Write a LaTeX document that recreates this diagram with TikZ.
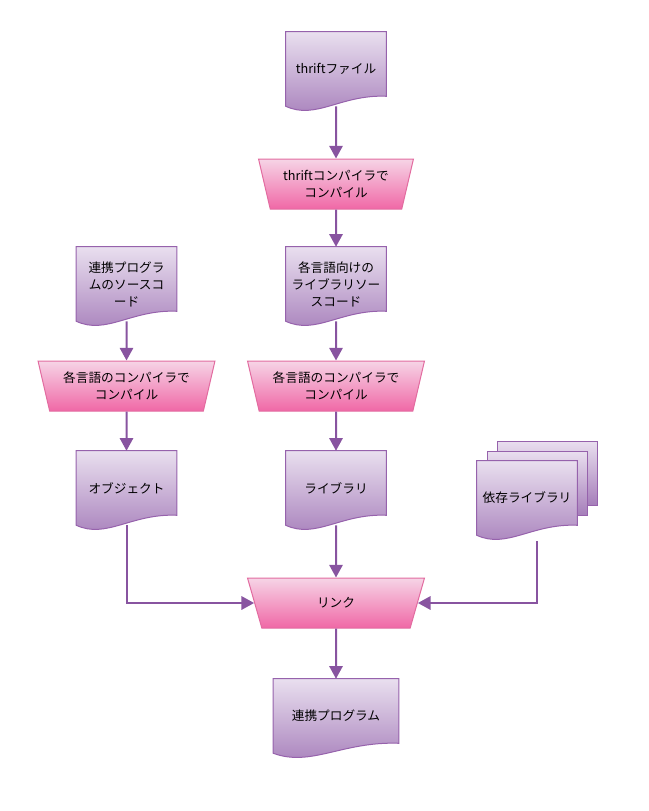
\documentclass[tikz,border=0pt]{standalone}
\usepackage{fontspec}
\setmainfont{Noto Sans CJK JP}
\usetikzlibrary{shapes.geometric,arrows.meta,backgrounds,calc}
\definecolor{docTop}{RGB}{233,223,239}
\definecolor{docBot}{RGB}{166,126,186}
\definecolor{docEdge}{RGB}{150,98,172}
\definecolor{cmpTop}{RGB}{246,212,230}
\definecolor{cmpBot}{RGB}{240,104,166}
\definecolor{cmpEdge}{RGB}{226,108,160}
\definecolor{flow}{RGB}{136,84,160}
\tikzset{>={Triangle[width=10pt,length=9.5pt]}}
\tikzset{
  docnode/.style={minimum width=75pt, minimum height=55.5pt, inner sep=0pt, align=center},
  docline/.style={draw=docEdge, line width=0.75pt, top color=docTop, bottom color=docBot},
  cmpnode/.style={trapezium, trapezium stretches=true, shape border rotate=180,
    trapezium left angle=71.2, trapezium right angle=71.2,
    minimum width=132.75pt, minimum height=37.5pt, inner sep=0pt, align=center,
    draw=cmpEdge, line width=0.75pt, top color=cmpTop, bottom color=cmpBot},
  conn/.style={->, draw=flow, line width=1.5pt}
}
% wavy document outline round a node
\newcommand{\docshape}[1]{%
  \draw[docline] (#1.north west) -- (#1.north east) -- ($(#1.south east)+(0,10)$)
    .. controls ($(#1.south west)!0.55!(#1.south east)+(0,12)$) and ($(#1.south west)!0.3!(#1.south east)+(0,-14)$) .. (#1.south west) -- cycle;}

\begin{document}
\begin{tikzpicture}[x=0.75pt,y=0.75pt,font=\fontsize{9.5}{12.75}\selectfont]
  \useasboundingbox (0,0) rectangle (649,-811);

  % middle column
  \node[docnode] (thrift) at (336,-69) {thriftファイル};
  \node[cmpnode, minimum width=116.25pt] (tc) at (336,-184) {thriftコンパイラで\\コンパイル};
  \node[docnode] (libsrc) at (336,-284) {各言語向けの\\ライブラリソー\\スコード};
  \node[cmpnode] (lc) at (336,-386) {各言語のコンパイラで\\コンパイル};
  \node[docnode] (lib) at (336,-488) {ライブラリ};
  \node[cmpnode] (link) at (336,-603) {リンク};
  \node[docnode, minimum width=93.75pt] (app) at (336,-716) {連携プログラム};

  % left column
  \node[docnode] (appsrc) at (126.5,-284) {連携プログラ\\ムのソースコ\\ード};
  \node[cmpnode] (ac) at (126.5,-386) {各言語のコンパイラで\\コンパイル};
  \node[docnode] (obj) at (126.5,-488) {オブジェクト};

  % dependent libraries
  \node[docnode] (deps) at (527,-498) {依存ライブラリ};
  \coordinate (depsbot) at (537,-541);

  \begin{pgfonlayer}{background}
    \docshape{thrift}
    \docshape{libsrc}
    \docshape{lib}
    \docshape{app}
    \docshape{appsrc}
    \docshape{obj}
    \draw[docline] (497,-441) rectangle (597,-505);
    \draw[docline] (487,-451) rectangle (587,-515);
    \docshape{deps}
  \end{pgfonlayer}

  \draw[conn] (thrift) -- (tc);
  \draw[conn] (tc) -- (libsrc);
  \draw[conn] (libsrc) -- (lc);
  \draw[conn] (lc) -- (lib);
  \draw[conn] (lib) -- (link);
  \draw[conn] (link) -- (app);
  \draw[conn] (appsrc) -- (ac);
  \draw[conn] (ac) -- (obj);
  \draw[conn] (obj.south) |- (link.west);
  \draw[conn] (depsbot) |- (link.east);
\end{tikzpicture}
\end{document}
